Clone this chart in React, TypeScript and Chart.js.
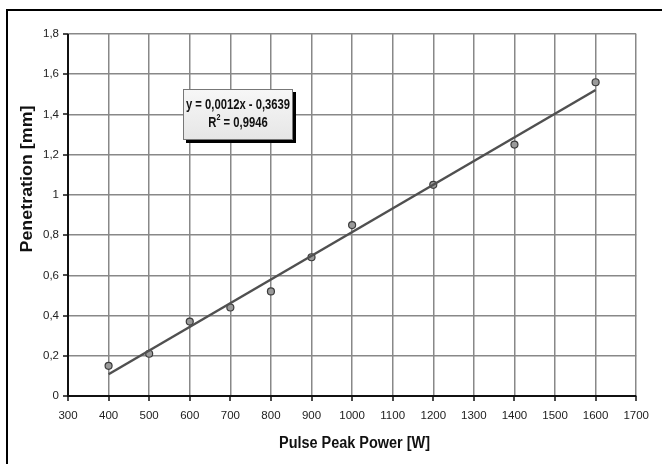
import React, { useEffect, useRef } from "react";
import { Chart, registerables } from "chart.js";

Chart.register(...registerables);

const powerW = [400, 500, 600, 700, 800, 900, 1000, 1200, 1400, 1600];
const penetrationMm = [0.15, 0.21, 0.37, 0.44, 0.52, 0.69, 0.85, 1.05, 1.25, 1.56];
const xTickLabels = ["300", "400", "500", "600", "700", "800", "900", "1000", "1100", "1200", "1300", "1400", "1500", "1600", "1700"];
const yTickLabels = ["0", "0,2", "0,4", "0,6", "0,8", "1", "1,2", "1,4", "1,6", "1,8"];
const equationText = "y = 0,0012x - 0,3639";
const rSquaredText = "0,9946";
const xTitle = "Pulse Peak Power [W]";
const yTitle = "Penetration [mm]";

const SANS = '"Liberation Sans", Arial, sans-serif';

function fitLine(xs: number[], ys: number[]) {
  const n = xs.length;
  const mx = xs.reduce((a, b) => a + b, 0) / n;
  const my = ys.reduce((a, b) => a + b, 0) / n;
  let sxy = 0, sxx = 0;
  for (let i = 0; i < n; i++) {
    sxy += (xs[i] - mx) * (ys[i] - my);
    sxx += (xs[i] - mx) * (xs[i] - mx);
  }
  const slope = sxy / sxx;
  return { slope, intercept: my - slope * mx };
}

// draw text horizontally condensed to a target width, centred at (cx, cy)
function fittedText(ctx: CanvasRenderingContext2D, text: string, cx: number, cy: number, font: string, width: number) {
  ctx.save();
  ctx.font = font;
  const w = ctx.measureText(text).width;
  const sx = width / w;
  ctx.translate(cx, cy);
  ctx.scale(sx, 1);
  ctx.textAlign = "center";
  ctx.textBaseline = "middle";
  ctx.fillText(text, 0, 0);
  ctx.restore();
}

const decorPlugin = {
  id: "decor",
  afterDraw(chart: any) {
    const ctx = chart.ctx as CanvasRenderingContext2D;
    const { left, right, top, bottom } = chart.chartArea;
    const xs = chart.scales.x;
    const ys = chart.scales.y;
    ctx.save();
    // outer frame (left and top)
    ctx.fillStyle = "#000";
    ctx.fillRect(6, 9, 2, 464 - 9);
    ctx.fillRect(6, 9, 662 - 6, 2);

    // axes
    ctx.strokeStyle = "#111";
    ctx.lineWidth = 2;
    ctx.beginPath();
    ctx.moveTo(left, top);
    ctx.lineTo(left, bottom);
    ctx.lineTo(right, bottom);
    ctx.stroke();
    ctx.lineWidth = 1.5;
    ctx.beginPath();
    xs.ticks.forEach((t: any) => {
      const px = Math.round(xs.getPixelForValue(t.value));
      ctx.moveTo(px, bottom);
      ctx.lineTo(px, bottom + 5);
    });
    ys.ticks.forEach((t: any) => {
      const py = Math.round(ys.getPixelForValue(t.value));
      ctx.moveTo(left, py);
      ctx.lineTo(left - 5, py);
    });
    ctx.stroke();

    // axis titles
    ctx.fillStyle = "#111";
    fittedText(ctx, xTitle, 354.5, 444, `bold 16px ${SANS}`, 151);
    ctx.save();
    ctx.translate(27.5, 179);
    ctx.rotate(-Math.PI / 2);
    fittedText(ctx, yTitle, 0, 0, `bold 16px ${SANS}`, 147);
    ctx.restore();

    // equation box
    const bx = 183, by = 89, bw = 110, bh = 51;
    ctx.fillStyle = "#000";
    ctx.fillRect(bx + 3, by + 3, bw, bh);
    const g = ctx.createLinearGradient(bx, by, bx, by + bh);
    g.addColorStop(0, "#f7f7f7");
    g.addColorStop(1, "#e6e6e6");
    ctx.fillStyle = g;
    ctx.fillRect(bx, by, bw, bh);
    ctx.strokeStyle = "#777";
    ctx.lineWidth = 1;
    ctx.strokeRect(bx + 0.5, by + 0.5, bw - 1, bh - 1);

    ctx.fillStyle = "#111";
    const eqFont = `bold 14px ${SANS}`;
    fittedText(ctx, equationText, bx + bw / 2, by + 16, eqFont, 104);
    // R² line, same condensation
    ctx.font = eqFont;
    const sx = 104 / ctx.measureText(equationText).width;
    const rest = " = " + rSquaredText;
    const wR = ctx.measureText("R").width;
    const wRest = ctx.measureText(rest).width;
    ctx.font = `bold 9px ${SANS}`;
    const w2 = ctx.measureText("2").width;
    const total = (wR + w2 + wRest) * sx;
    ctx.save();
    ctx.translate(bx + bw / 2 - total / 2, by + 34);
    ctx.scale(sx, 1);
    ctx.textAlign = "left";
    ctx.textBaseline = "middle";
    ctx.font = eqFont;
    ctx.fillText("R", 0, 0);
    ctx.font = `bold 9px ${SANS}`;
    ctx.fillText("2", wR, -5);
    ctx.font = eqFont;
    ctx.fillText(rest, wR + w2, 0);
    ctx.restore();
    ctx.restore();
  },
};

export default function App() {
  const ref = useRef<HTMLCanvasElement | null>(null);
  useEffect(() => {
    if (!ref.current) return;
    const { slope, intercept } = fitLine(powerW, penetrationMm);
    const xMin = Math.min(...powerW);
    const xMax = Math.max(...powerW);
    const chart = new Chart(ref.current, {
      type: "scatter",
      data: {
        datasets: [
          {
            label: "trend",
            data: [
              { x: xMin, y: slope * xMin + intercept },
              { x: xMax, y: slope * xMax + intercept },
            ],
            showLine: true,
            borderColor: "#505050",
            borderWidth: 2.5,
            pointRadius: 0,
            fill: false,
          } as any,
          {
            label: "data",
            data: powerW.map((x, i) => ({ x, y: penetrationMm[i] })),
            pointRadius: 3.5,
            pointBackgroundColor: "#9a9a9a",
            pointBorderColor: "#3c3c3c",
            pointBorderWidth: 1.2,
            showLine: false,
          },
        ],
      },
      options: {
        responsive: false,
        animation: false,
        devicePixelRatio: 1,
        layout: { padding: { left: 0, top: 34, right: 19, bottom: 0 } },
        plugins: { legend: { display: false }, tooltip: { enabled: false } },
        scales: {
          x: {
            type: "linear",
            min: 300,
            max: 1700,
            afterFit: (s: any) => { s.height = 68; },
            afterBuildTicks: (s: any) => {
              s.ticks = xTickLabels.map((l) => ({ value: Number(l) }));
            },
            ticks: {
              autoSkip: false,
              maxRotation: 0,
              padding: 13,
              color: "#222",
              font: { family: SANS, size: 11.5 },
              callback: (_v: any, i: number) => xTickLabels[i],
            },
            grid: { color: "#888888", lineWidth: 1.5, drawTicks: false },
            border: { display: false },
          },
          y: {
            type: "linear",
            min: 0,
            max: 1.8,
            afterFit: (s: any) => { s.width = 68; },
            afterBuildTicks: (s: any) => {
              s.ticks = yTickLabels.map((l) => ({ value: Number(l.replace(",", ".")) }));
            },
            ticks: {
              autoSkip: false,
              padding: 9,
              color: "#222",
              font: { family: SANS, size: 11.5 },
              callback: (_v: any, i: number) => yTickLabels[i],
            },
            grid: { color: "#888888", lineWidth: 1.5, drawTicks: false },
            border: { display: false },
          },
        },
      },
      plugins: [decorPlugin],
    });
    return () => chart.destroy();
  }, []);
  return (
    <div style={{ position: "absolute", left: 0, top: 0, width: 662, height: 464, background: "#fff" }}>
      <canvas ref={ref} width={662} height={464} style={{ display: "block" }} />
    </div>
  );
}
